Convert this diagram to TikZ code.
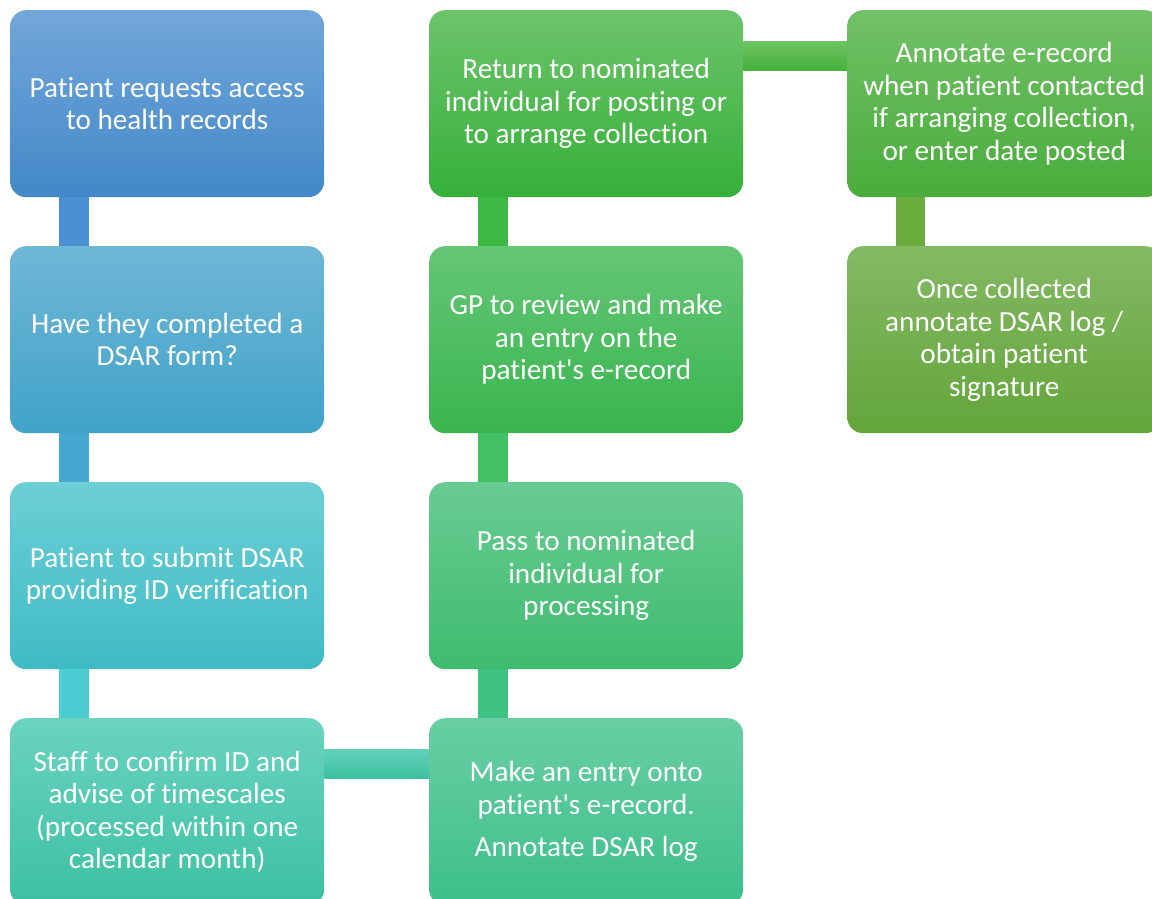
\documentclass[tikz,border=0pt]{standalone}
\usepackage{fontspec}
\setmainfont{Carlito}[Ligatures={TeXOff,NoCommon}]
\begin{document}
\begin{tikzpicture}[x=1pt,y=-1pt,
  stepbox/.style={rounded corners=16pt, minimum width=314pt, minimum height=187pt, inner sep=0pt,
     anchor=north west, text=white, align=center,
     font=\fontsize{29.2}{32.5}\selectfont},
  conn/.style={draw=none}]
\useasboundingbox (0,0) rectangle (1152,899);
\clip (0,0) rectangle (1152,899);
% boxes
\node[stepbox, top color={rgb,255:red,114;green,167;blue,218}, bottom color={rgb,255:red,67;green,136;blue,200}] (b1) at (10,10) {Patient requests access\\to health records};
\node[stepbox, top color={rgb,255:red,111;green,183;blue,214}, bottom color={rgb,255:red,64;green,163;blue,200}] (b2) at (10,246) {Have they completed a\\DSAR form?};
\node[stepbox, top color={rgb,255:red,107;green,207;blue,212}, bottom color={rgb,255:red,63;green,187;blue,198}] (b3) at (10,482) {Patient to submit DSAR\\providing ID verification};
\node[stepbox, top color={rgb,255:red,106;green,211;blue,192}, bottom color={rgb,255:red,60;green,192;blue,162}] (b4) at (10,718) {Staff to confirm ID and\\advise of timescales\\(processed within one\\calendar month)};
\node[stepbox, top color={rgb,255:red,105;green,206;blue,164}, bottom color={rgb,255:red,60;green,191;blue,138}] (c4) at (429,718) {Make an entry onto\\patient's e-record.\\[10pt]Annotate DSAR log};
\node[stepbox, top color={rgb,255:red,105;green,203;blue,146}, bottom color={rgb,255:red,62;green,188;blue,110}] (c3) at (429,482) {Pass to nominated\\individual for\\processing};
\node[stepbox, top color={rgb,255:red,101;green,198;blue,118}, bottom color={rgb,255:red,57;green,181;blue,78}] (c2) at (429,246) {GP to review and make\\an entry on the\\patient's e-record};
\node[stepbox, top color={rgb,255:red,108;green,196;blue,106}, bottom color={rgb,255:red,54;green,176;blue,58}] (c1) at (429,10) {Return to nominated\\individual for posting or\\to arrange collection};
\node[stepbox, top color={rgb,255:red,114;green,193;blue,104}, bottom color={rgb,255:red,73;green,172;blue,58}] (d1) at (847,10) {Annotate e-record\\when patient contacted\\if arranging collection,\\or enter date posted};
\node[stepbox, top color={rgb,255:red,132;green,185;blue,100}, bottom color={rgb,255:red,99;green,165;blue,58}] (d2) at (847,246) {Once collected\\annotate DSAR log /\\obtain patient\\signature};
% connectors
\fill[conn, fill={rgb,255:red,74;green,144;blue,212}] ([xshift=49pt]b1.south west) rectangle ([xshift=79pt]b2.north west);
\fill[conn, fill={rgb,255:red,70;green,168;blue,208}] ([xshift=49pt]b2.south west) rectangle ([xshift=79pt]b3.north west);
\fill[conn, fill={rgb,255:red,76;green,205;blue,210}] ([xshift=49pt]b3.south west) rectangle ([xshift=79pt]b4.north west);
\shade[conn, top color={rgb,255:red,98;green,210;blue,186}, bottom color={rgb,255:red,60;green,192;blue,160}] ([yshift=-31pt]b4.north east) rectangle ([yshift=-60pt]c4.north west);
\fill[conn, fill={rgb,255:red,64;green,195;blue,130}] ([xshift=49pt]c3.south west) rectangle ([xshift=79pt]c4.north west);
\fill[conn, fill={rgb,255:red,68;green,192;blue,100}] ([xshift=49pt]c2.south west) rectangle ([xshift=79pt]c3.north west);
\fill[conn, fill={rgb,255:red,60;green,184;blue,68}] ([xshift=49pt]c1.south west) rectangle ([xshift=79pt]c2.north west);
\shade[conn, top color={rgb,255:red,108;green,194;blue,96}, bottom color={rgb,255:red,68;green,176;blue,58}] ([yshift=-32pt]c1.north east) rectangle ([yshift=-61pt]d1.north west);
\fill[conn, fill={rgb,255:red,106;green,173;blue,62}] ([xshift=49pt]d1.south west) rectangle ([xshift=78pt]d2.north west);
\end{tikzpicture}
\end{document}
